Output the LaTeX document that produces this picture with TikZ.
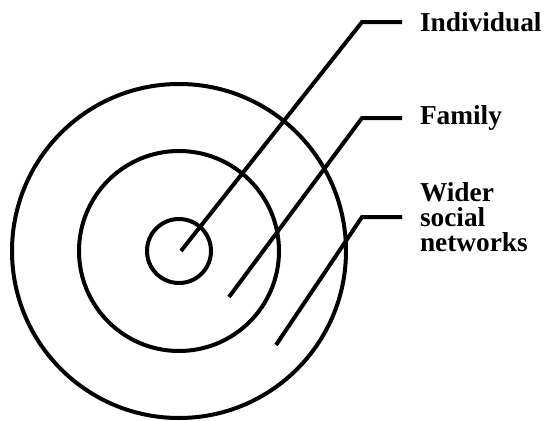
\documentclass[tikz,border=0pt]{standalone}
\usepackage{fontspec}
\setmainfont{Liberation Serif}
\usepackage{tikz}
\usetikzlibrary{positioning}

\begin{document}
\begin{tikzpicture}[x=0.75pt,y=-0.75pt,line width=3pt,
  ring/.style={draw=black},
  lead/.style={draw=black,line join=miter},
  tag/.style={font=\bfseries\fontsize{20.5}{19}\selectfont,anchor=west,inner sep=0pt,align=left}]
\useasboundingbox (0,0) rectangle (546,421);
% rings around the centre
\coordinate (centre) at (179,251);
\foreach \r in {32,100,167} {
  \draw[ring] (centre) circle[radius=\r];
}
% labels
\node[tag] (ind) at (418,22) {Individual};
\node[tag] (fam) at (418,118) {Family};
\node[tag] (wid) at (418,217) {Wider\\social\\networks};
% leader lines
\coordinate (ind-tip) at (181,251);
\coordinate (fam-tip) at (229,297);
\coordinate (wid-tip) at (276,345);
\coordinate (ind-bend) at (362,22);
\coordinate (fam-bend) at (362,118);
\coordinate (wid-bend) at (362,217);
\draw[lead] (ind-tip) -- (ind-bend) -- ([xshift=-12pt]ind.west);
\draw[lead] (fam-tip) -- (fam-bend) -- ([xshift=-12pt]fam.west);
\draw[lead] (wid-tip) -- (wid-bend) -- ([xshift=-12pt]wid.west);
\end{tikzpicture}
\end{document}
